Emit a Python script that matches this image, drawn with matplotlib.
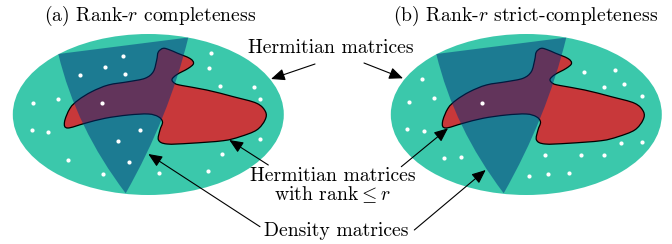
import numpy as np
import matplotlib
matplotlib.use("Agg")
import matplotlib.pyplot as plt
from matplotlib.patches import Ellipse, PathPatch
from matplotlib.path import Path

plt.rcParams['font.family'] = 'cmr10'
plt.rcParams['mathtext.fontset'] = 'cm'

# geometry, in pixels of the left panel; the right panel is shifted
shift = 378
ell_center = (148.3, 114.5)
ell_size = (271, 161)

# cone: top-left, top-right, tip, and the control points of the two sides
cone_tl = (58.3, 54.0)
cone_tr = (188.3, 37.5)
cone_tip = (125.7, 193.3)
cone_left_ctrl = (76.0, 128.0)
cone_right_ctrl = (169.0, 117.0)

# outline of the rank <= r region
blob_x = [64.5, 70, 78.3, 91.7, 108.3, 128.3, 145, 153.3, 156.7, 158.3, 163.3,
          170, 177, 190, 193.5, 188, 177, 172, 175, 182, 206.7, 233.3, 256.7,
          265.5, 265, 256.7, 240, 223.3, 190, 167, 158.5, 160, 162.5, 158.3,
          148.3, 128.3, 105, 85, 67.5]
blob_y = [122, 108.3, 100, 91.7, 85, 81.7, 78.3, 71.7, 60, 52, 48.3,
          50, 53, 58.5, 63.5, 68.5, 74.5, 79.5, 83.5, 85.5, 90, 96.7, 103.3,
          111.7, 120, 130, 136.7, 140.7, 143.3, 144, 140, 130, 122, 116.7,
          114, 115, 118.3, 123.3, 128]

# white points
dots_a_x = [123.3, 105, 124.7, 79.7, 58.3, 33.3, 102, 31.7, 47.7, 139.7, 117.7,
            68.3, 129, 102.7, 158.5, 211.3, 208.7, 219.7, 253.7, 260, 260, 222, 208.3]
dots_a_y = [55.7, 66.7, 74, 75, 99.3, 103, 103, 130, 132.3, 130, 141.3,
            160, 162.3, 173.7, 173.3, 53, 68, 86, 87.3, 99.3, 139.3, 153.7, 171]
dots_b_x = [422, 409.3, 434, 482, 407.3, 423.7, 444, 460.7, 528.7, 584, 615,
            603.7, 624.3, 642, 620.7, 642, 545.3, 581, 604, 547.7, 569]
dots_b_y = [79, 101.7, 98, 103.3, 129, 131, 158.3, 157, 176, 72.3, 70.3,
            87.3, 84, 96, 142.7, 142.3, 154.7, 155.3, 155.3, 174, 173]

titles = [r'(a) Rank-$r$ completeness', r'(b) Rank-$r$ strict-completeness']
title_x = [150, 526]

green = '#3bc8ab'
red = '#c8383a'
cone_col = '#00327b'


def smooth_closed(xs, ys):
    pts = np.column_stack([xs, ys])
    n = len(pts)
    verts = [pts[0]]
    codes = [Path.MOVETO]
    for i in range(n):
        p0, p1, p2, p3 = pts[i - 1], pts[i], pts[(i + 1) % n], pts[(i + 2) % n]
        c1 = p1 + (p2 - p0) / 6.0
        c2 = p2 - (p3 - p1) / 6.0
        verts += [c1, c2, p2]
        codes += [Path.CURVE4] * 3
    return Path(verts, codes)


def cone_path(dx):
    v = [cone_tl, cone_tr, cone_right_ctrl, cone_tip, cone_left_ctrl, cone_tl]
    v = [(x + dx, y) for x, y in v]
    codes = [Path.MOVETO, Path.LINETO, Path.CURVE3, Path.CURVE3,
             Path.CURVE3, Path.CURVE3]
    return Path(v, codes)


fig = plt.figure(figsize=(6.72, 2.44), dpi=100)
ax = fig.add_axes([0, 0, 1, 1])
ax.set_xlim(0, 672)
ax.set_ylim(244, 0)
ax.axis('off')

for k, dx in enumerate([0, shift]):
    ax.add_patch(Ellipse((ell_center[0] + dx, ell_center[1]), ell_size[0],
                         ell_size[1], facecolor=green, edgecolor='none'))
    ax.add_patch(PathPatch(smooth_closed(np.array(blob_x) + dx, blob_y),
                           facecolor=red, edgecolor='black', lw=0.9))
    ax.add_patch(PathPatch(cone_path(dx), facecolor=cone_col,
                           edgecolor='none', alpha=0.51))
    ax.text(title_x[k], 16, titles[k], ha='center', va='center', fontsize=14.2)

ax.scatter(dots_a_x, dots_a_y, s=9, color='white', linewidths=0, zorder=5)
ax.scatter(dots_b_x, dots_b_y, s=9, color='white', linewidths=0, zorder=5)

labels = ['Hermitian matrices', 'Hermitian matrices\nwith rank $\\!\\!\\leq r$',
          'Density matrices']
label_pos = [(331, 48), (333, 186), (336, 231)]
for txt, (x, y) in zip(labels, label_pos):
    ax.text(x, y, txt, ha='center', va='center', fontsize=14.2,
            linespacing=1.0)

# arrows: (tail, head)
arrows = [((315, 64), (271, 79)), ((364, 63), (403, 78.3)),
          ((268.3, 165), (229.3, 140)), ((401.3, 166.7), (448, 128.3)),
          ((260, 226.7), (148.3, 154)), ((414.3, 230), (485.7, 170))]
for tail, head in arrows:
    ax.annotate('', xy=head, xytext=tail,
                arrowprops=dict(arrowstyle='-|>,head_length=0.7,head_width=0.3',
                                color='black', lw=0.8, shrinkA=0, shrinkB=0,
                                mutation_scale=12))

fig.savefig('out.png', dpi=100)
